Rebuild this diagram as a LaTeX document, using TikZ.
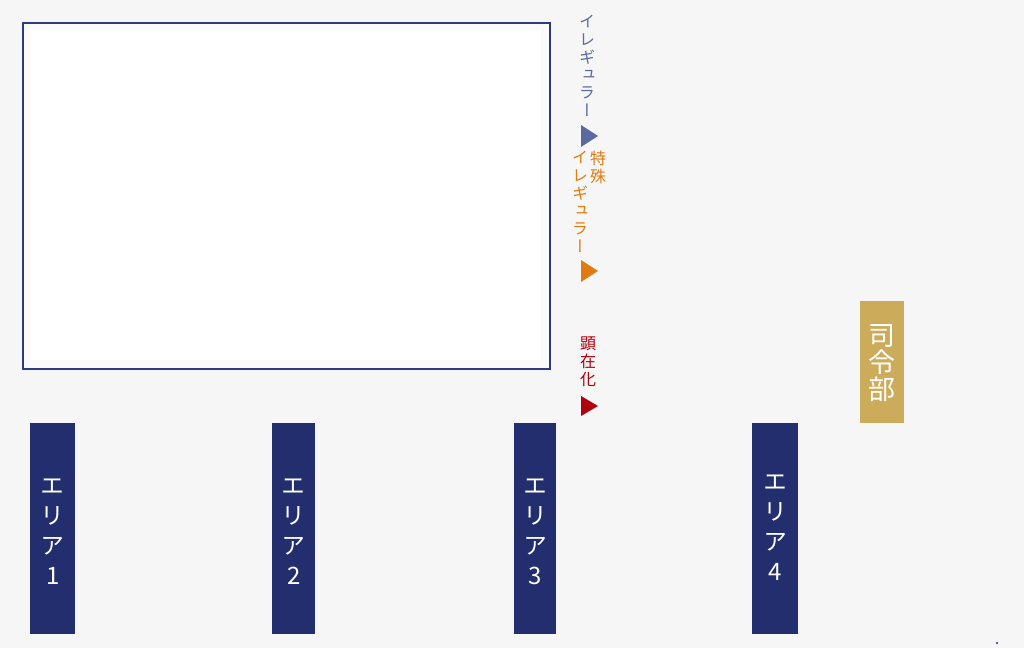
\documentclass[tikz,border=0pt]{standalone}
\usepackage{fontspec}
\newfontfamily\cjkvr[RawFeature=+vert]{Noto Sans CJK JP}
\definecolor{bgc}{HTML}{F6F6F6}
\definecolor{navy}{HTML}{232E6E}
\definecolor{framec}{HTML}{2E3A80}
\definecolor{irr}{HTML}{5A6AA0}
\definecolor{spc}{HTML}{E07B10}
\definecolor{mani}{HTML}{B00010}
\definecolor{gold}{HTML}{CCAB5A}
\tikzset{
  areabox/.style={fill=navy, draw=none, minimum width=45pt, minimum height=211pt, inner sep=0pt},
  areatext/.style={text=white, font=\cjkvr\fontsize{24}{30}\selectfont, align=center, inner sep=0pt},
  legtext/.style={font=\cjkvr\fontsize{16}{17.8}\selectfont, align=center, inner sep=0pt},
}
\begin{document}
\begin{tikzpicture}[x=1pt,y=-1pt]
\useasboundingbox (0,0) rectangle (1024,648);
\fill[bgc] (0,0) rectangle (1024,648);
% frame
\node[draw=framec, line width=1.8pt, fill=bgc!60!white, minimum width=527pt, minimum height=346pt, inner sep=0pt, anchor=north west] (frame) at (22,22) {};
\node[fill=white, minimum width=511pt, minimum height=330pt, inner sep=0pt, anchor=north west] (inner) at (30,30) {};
% areas
\node[areabox, anchor=north west] (a1) at (30,423) {};
\node[areatext] (t1) at ([yshift=-3pt]a1.center) {エ\\リ\\ア\\1};
\node[areabox, minimum width=43pt, anchor=north west] (a2) at (272,423) {};
\node[areatext] (t2) at ([yshift=-3pt]a2.center) {エ\\リ\\ア\\2};
\node[areabox, minimum width=42pt, anchor=north west] (a3) at (514,423) {};
\node[areatext] (t3) at ([yshift=-3pt]a3.center) {エ\\リ\\ア\\3};
\node[areabox, minimum width=46pt, anchor=north west] (a4) at (752,423) {};
\node[areatext] (t4) at ([yshift=1pt]a4.center) {エ\\リ\\ア\\4};
% HQ
\node[fill=gold, minimum width=44pt, minimum height=122pt, inner sep=0pt, anchor=north west] (hq) at (860,301) {};
\node[text=white, font=\cjkvr\fontsize{27}{27}\selectfont, align=center, inner sep=0pt] (hqt) at ([yshift=-1pt]hq.center) {司\\令\\部};
% legend
\node[legtext, text=irr, anchor=north] (l1) at (587,15) {イ\\レ\\ギ\\ュ\\ラ\\ー};
\fill[irr] (581,125) -- (598,136) -- (581,147) -- cycle;
\node[legtext, text=spc, anchor=north] (l2a) at (598,151) {特\\殊};
\node[legtext, text=spc, anchor=north] (l2b) at (580,151) {イ\\レ\\ギ\\ュ\\ラ\\ー};
\fill[spc] (581,260) -- (598,271) -- (581,282) -- cycle;
\node[legtext, text=mani, anchor=north] (l3) at (588,337) {顕\\在\\化};
\fill[mani] (581,396) -- (598,406) -- (581,416) -- cycle;
% tiny dot
\fill[navy] (997,643) circle (1.2pt);
\end{tikzpicture}
\end{document}
